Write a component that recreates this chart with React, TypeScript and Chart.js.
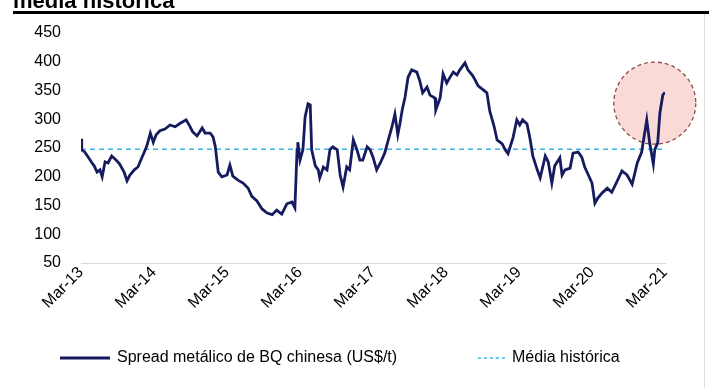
import { useEffect, useRef } from "react";
import { Chart, registerables } from "chart.js";

Chart.register(...registerables);

const titleText = "média histórica";
const tickLabels = ["Mar-13", "Mar-14", "Mar-15", "Mar-16", "Mar-17", "Mar-18", "Mar-19", "Mar-20", "Mar-21"];
const seriesLabel = "Spread metálico de BQ chinesa (US$/t)";
const meanLabel = "Média histórica";
const historicalMean = 248;

// time in years since Mar-13
const yearsSinceMar13 = [
  0.0, 0.01, 0.05, 0.1, 0.14, 0.18, 0.22, 0.26, 0.29, 0.33,
  0.37, 0.42, 0.48, 0.53, 0.59, 0.63, 0.67, 0.73, 0.78, 0.82,
  0.86, 0.9, 0.95, 0.99, 1.03, 1.08, 1.15, 1.22, 1.29, 1.36,
  1.44, 1.49, 1.53, 1.59, 1.66, 1.7, 1.77, 1.81, 1.84, 1.88,
  1.93, 2.0, 2.04, 2.08, 2.15, 2.22, 2.29, 2.34, 2.41, 2.48,
  2.55, 2.62, 2.68, 2.75, 2.82, 2.89, 2.93, 2.96, 2.97, 3.0,
  3.04, 3.07, 3.11, 3.14, 3.16, 3.21, 3.25, 3.27, 3.32, 3.37,
  3.41, 3.45, 3.51, 3.55, 3.59, 3.64, 3.68, 3.73, 3.78, 3.82,
  3.86, 3.92, 3.96, 4.0, 4.05, 4.1, 4.16, 4.21, 4.26, 4.3,
  4.34, 4.37, 4.4, 4.44, 4.48, 4.53, 4.6, 4.64, 4.68, 4.74,
  4.78, 4.85, 4.86, 4.92, 4.96, 5.01, 5.05, 5.1, 5.15, 5.19,
  5.26, 5.3, 5.36, 5.4, 5.44, 5.51, 5.56, 5.6, 5.66, 5.7,
  5.77, 5.81, 5.85, 5.92, 5.97, 6.01, 6.05, 6.11, 6.15, 6.19,
  6.25, 6.29, 6.36, 6.4, 6.45, 6.49, 6.56, 6.59, 6.63, 6.7,
  6.74, 6.81, 6.86, 6.9, 6.95, 7.0, 7.04, 7.08, 7.14, 7.21,
  7.27, 7.34, 7.41, 7.48, 7.55, 7.62, 7.68, 7.75, 7.79, 7.84,
  7.86, 7.9, 7.93, 7.97, 8.0,
];

const spread = [
  266, 247, 243, 234, 226, 219, 208, 212, 200, 226,
  224, 236, 229, 222, 208, 193, 203, 212, 217, 229,
  241, 253, 276, 260, 273, 280, 283, 290, 287, 293,
  299, 288, 278, 271, 285, 276, 276, 269, 252, 208,
  200, 203, 220, 201, 194, 189, 180, 166, 158, 144,
  137, 134, 142, 135, 153, 156, 146, 247, 260, 229,
  247, 304, 327, 325, 247, 219, 212, 198, 217, 212,
  247, 252, 247, 203, 182, 217, 212, 264, 247, 229,
  229, 252, 247, 234, 212, 224, 241, 264, 287, 309,
  273, 293, 316, 339, 373, 386, 382, 367, 346, 356,
  342, 337, 316, 337, 379, 363, 372, 382, 377, 386,
  398, 386, 377, 368, 358, 351, 346, 314, 287, 264,
  257, 247, 240, 269, 299, 290, 299, 292, 267, 236,
  212, 198, 236, 226, 189, 219, 233, 203, 212, 215,
  241, 243, 234, 217, 203, 189, 154, 163, 172, 180,
  173, 191, 210, 203, 187, 224, 243, 299, 259, 222,
  247, 259, 311, 342, 347,
];

// highlighted zone (data coordinates) and its radius in pixels
const highlightX = 7.86;
const highlightY = 328;
const highlightRadius = 41;

const FONT = '"Liberation Sans", Arial, Helvetica, sans-serif';
const NAVY = "#151b5e";
const MEAN_COLOR = "#3ab6e4";

export default function App() {
  const ref = useRef<HTMLCanvasElement | null>(null);

  useEffect(() => {
    const canvas = ref.current;
    if (!canvas) return;

    const points = yearsSinceMar13.map((x, i) => ({ x, y: spread[i] }));
    const meanPts = [
      { x: 0, y: historicalMean },
      { x: tickLabels.length - 1, y: historicalMean },
    ];

    const decor = {
      id: "decor",
      beforeDatasetsDraw(chart: any) {
        const { ctx, scales } = chart;
        const cx = scales.x.getPixelForValue(highlightX);
        const cy = scales.y.getPixelForValue(highlightY);
        ctx.save();
        ctx.beginPath();
        ctx.arc(cx, cy, highlightRadius, 0, Math.PI * 2);
        ctx.fillStyle = "rgba(236,122,112,0.28)";
        ctx.fill();
        ctx.setLineDash([4, 3]);
        ctx.lineWidth = 1.3;
        ctx.strokeStyle = "#8e4a4e";
        ctx.stroke();
        ctx.restore();
      },
      afterDraw(chart: any) {
        const { ctx } = chart;
        ctx.save();
        // title (cut at top) and rule
        ctx.fillStyle = "#000";
        ctx.font = `bold 22px ${FONT}`;
        ctx.textBaseline = "alphabetic";
        ctx.textAlign = "left";
        ctx.fillText(titleText, 13, 8);
        ctx.fillRect(13, 11, 696, 3);
        // right border
        ctx.fillStyle = "#dcdcdc";
        ctx.fillRect(704, 14, 1, 374);
        // legend
        const ly = 358;
        ctx.strokeStyle = NAVY;
        ctx.lineWidth = 3;
        ctx.beginPath();
        ctx.moveTo(60, ly);
        ctx.lineTo(110, ly);
        ctx.stroke();
        ctx.fillStyle = "#000";
        ctx.font = `16px ${FONT}`;
        ctx.textBaseline = "middle";
        ctx.fillText(seriesLabel, 117, ly);
        ctx.strokeStyle = MEAN_COLOR;
        ctx.lineWidth = 1.5;
        ctx.setLineDash([3, 3]);
        ctx.beginPath();
        ctx.moveTo(478, ly);
        ctx.lineTo(507, ly);
        ctx.stroke();
        ctx.setLineDash([]);
        ctx.fillText(meanLabel, 512, ly);
        ctx.restore();
      },
    };

    const chart = new Chart(canvas, {
      type: "line",
      data: {
        datasets: [
          {
            label: seriesLabel,
            data: points,
            borderColor: NAVY,
            borderWidth: 2.8,
            pointRadius: 0,
            tension: 0,
            order: 1,
          },
          {
            label: meanLabel,
            data: meanPts,
            borderColor: MEAN_COLOR,
            borderWidth: 1.5,
            borderDash: [5, 4],
            pointRadius: 0,
            order: 2,
          },
        ],
      },
      options: {
        responsive: false,
        animation: false,
        events: [],
        layout: { padding: { top: 33, right: 44, left: 0, bottom: 0 } },
        plugins: { legend: { display: false }, tooltip: { enabled: false }, title: { display: false } },
        scales: {
          x: {
            type: "linear",
            min: 0,
            max: tickLabels.length - 1,
            grid: { display: false, drawTicks: false },
            border: { display: true, color: "#d9d9d9", width: 1 },
            afterFit: (s: any) => {
              s.height = 125;
            },
            ticks: {
              stepSize: 1,
              autoSkip: false,
              minRotation: 45,
              maxRotation: 45,
              padding: 0,
              color: "#000",
              font: { family: FONT, size: 16 },
              callback: (v: any) => tickLabels[Number(v)] ?? "",
            },
          },
          y: {
            min: 50,
            max: 450,
            grid: { display: false, drawTicks: false },
            border: { display: false },
            afterFit: (s: any) => {
              s.width = 81;
            },
            ticks: {
              stepSize: 50,
              padding: 20,
              color: "#000",
              font: { family: FONT, size: 16 },
            },
          },
        },
      },
      plugins: [decor],
    });

    return () => chart.destroy();
  }, []);

  return (
    <div style={{ position: "absolute", left: 0, top: 0, width: 709, height: 388, background: "#fff" }}>
      <canvas ref={ref} width={709} height={388} style={{ display: "block" }} />
    </div>
  );
}
